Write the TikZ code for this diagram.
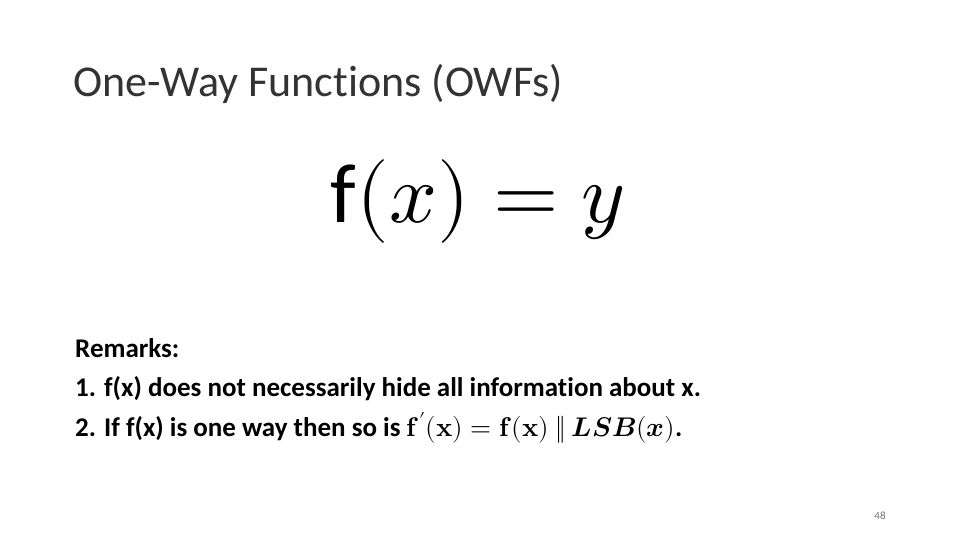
\documentclass[tikz,border=0pt]{standalone}
\usepackage{fontspec}
\usepackage{unicode-math}
\setmainfont{Carlito}[Ligatures=NoCommon]
\setmathfont{Latin Modern Math}
\newcommand{\lsbformula}{$\symbf{f}^{\prime}(\symbf{x})=\symbf{f}(\symbf{x})\mathbin{\|}\symbfit{LSB}(\symbfit{x})$}
\begin{document}
\begin{tikzpicture}[x=1pt,y=-1pt,
  body/.style={anchor=base west,inner sep=0pt,font=\fontsize{27}{32}\selectfont\bfseries}]
\useasboundingbox[fill=white] (0,0) rectangle (960,540);
\node[anchor=base west,inner sep=0pt,font=\fontsize{44}{52}\selectfont,text=black!80] (title) at (73,97) {One-Way Functions (OWFs)};
\node[anchor=base,inner sep=0pt,font=\fontsize{84}{96}\selectfont] (eq) at (478,222) {$\mathrm{f}(x)=y$};
\node[body] (rem) at (75,357) {Remarks:};
\node[body] (n1) at (75,396) {1.};
\node[body] (l1) at (104,396) {f(x) does not necessarily hide all information about x.};
\node[body] (n2) at (75,436) {2.};
\node[body] (l2) at (104,436) {If f(x) is one way then so is \lsbformula.};
\node[anchor=base,inner sep=0pt,font=\fontsize{11}{13}\selectfont,text=black!55] (pg) at (880,519) {48};
\end{tikzpicture}
\end{document}
